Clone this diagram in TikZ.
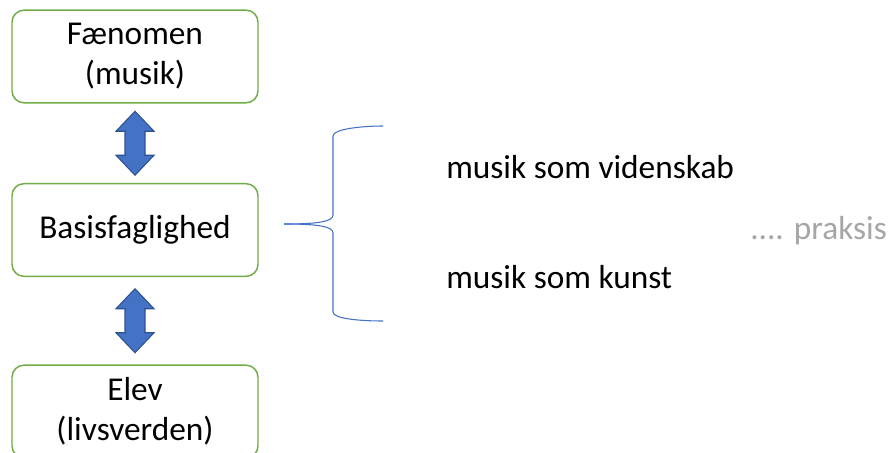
\documentclass[tikz,border=0pt]{standalone}
\usepackage{fontspec}
\setmainfont{Carlito}
\usetikzlibrary{calc}

\begin{document}
\begin{tikzpicture}[
  x=0.75pt, y=-0.75pt,
  font=\fontsize{25}{30}\selectfont,
  box/.style={rectangle, draw=boxgreen, line width=1.1pt, rounded corners=9pt, fill=white, minimum width=184.5pt, minimum height=69.5pt, align=center, inner sep=0pt},
  dblarr/.style={fill=arrblue, draw=arrborder, line width=0.8pt, line join=miter},
  brace/.style={draw=arrblue, line width=0.8pt},
  txt/.style={anchor=west, inner sep=0pt},
]
\definecolor{arrblue}{HTML}{4472C4}
\definecolor{arrborder}{HTML}{2F528F}
\definecolor{boxgreen}{HTML}{70AD47}
\clip (0,0) rectangle (892,453);
\fill[white] (0,0) rectangle (892,453);

% ---------------- left column ----------------
\node[box] (fen)  at (135, 56.5)  {Fænomen\\(musik)};
\node[box] (bas)  at (135, 230)   {Basisfaglighed};
\node[box] (elev) at (135, 411.5) {Elev\\(livsverden)};

\coordinate (m1) at ($(fen.south)!0.5!(bas.north)$);
\coordinate (m2) at ($(bas.south)!0.5!(elev.north)$);
\draw[dblarr] ($(m1)+(0,-32)$) -- ++(19,20) -- ++(-9,0) -- ++(0,24) -- ++(9,0) -- ++(-19,20)
  -- ++(-19,-20) -- ++(9,0) -- ++(0,-24) -- ++(-9,0) -- cycle;
\draw[dblarr] ($(m2)+(0,-32)$) -- ++(19,20) -- ++(-9,0) -- ++(0,24) -- ++(9,0) -- ++(-19,20)
  -- ++(-19,-20) -- ++(9,0) -- ++(0,-24) -- ++(-9,0) -- cycle;

% ---------------- brace ----------------
\coordinate (brL) at (284,224);
\draw[brace] (brL) .. controls (316,224) and (333,222) .. (333,215) -- (333,136)
  .. controls (333,129) and (362,126) .. (383,126);
\draw[brace] (brL) .. controls (316,224) and (333,226) .. (333,233) -- (333,312)
  .. controls (333,319) and (362,321) .. (383,321);

% ---------------- right texts ----------------
\node[txt] (vid)   at (446,167) {musik som videnskab};
\node[txt] (kunst) at (446,277) {musik som kunst};
\node[txt, text=black!35] (prak) at (750,231) {.... praksis};
\end{tikzpicture}
\end{document}
